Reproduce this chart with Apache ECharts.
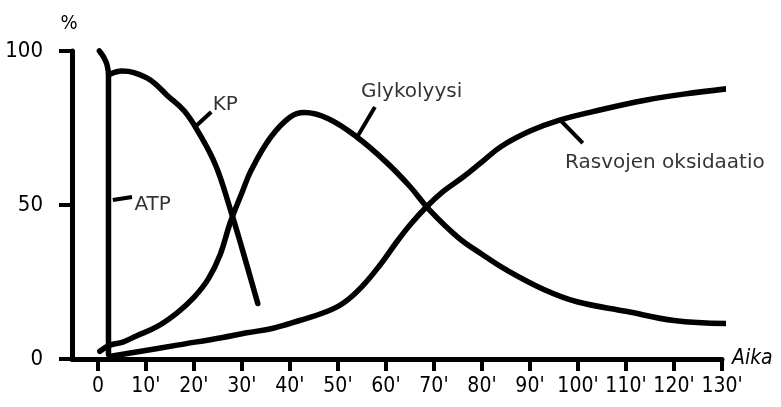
<!DOCTYPE html>
<html>
<head>
<meta charset="utf-8">
<script src="https://cdn.jsdelivr.net/npm/echarts@6/dist/echarts.min.js"></script>
<style>
html,body{margin:0;padding:0;background:#fff;}
#c{width:781px;height:407px;}
</style>
</head>
<body>
<div id="c"></div>
<script>
// Tick values
const xTicks = [0,10,20,30,40,50,60,70,80,90,100,110,120,130];
const yTicks = [0,50,100];

// Series data [minutes, %]
const atp = [[0.3,100],[1.2,98],[1.9,95.5],[2.2,92],[2.2,1.5]];
const kp = [[2.6,92.5],[5,93.5],[7.5,93],[11,90.5],[14.5,85.5],[18,80.5],[21,73.5],[24.5,63],[27.5,49],[30,36],[33.3,18]];
const glyk = [[0.4,2.5],[2.5,4.5],[5.2,5.5],[8,7.5],[12.3,10.5],[16.5,15],[20,20],[23,26],[25.5,34],[27.5,44],[30,54],[32,61.5],[36,72],[40,78.5],[43,80],[48,78],[54,72],[60,64],[65,56],[69,48.5],[75,39.5],[80,34],[85,29],[93,22.5],[100,18.5],[110,15.5],[120,12.5],[131,11.5]];
const rasva = [[3,1],[9,2.5],[16.5,4.5],[26,7],[31,8.5],[36.5,10],[42,12.5],[47,15],[51,18],[55,23.5],[59,31],[62,37.5],[65,43.5],[68.5,49.5],[72,54.5],[76,59],[80,64],[84,69],[90,74],[96,77.5],[105,81],[114,84],[122,86],[132.5,88]];

// Curve annotations: label, connector start, connector end, text anchor
const annNames = ['KP','ATP','Glykolyysi','Rasvojen oksidaatio'];
const annFrom = [[20.2,75.3],[3.1,51.6],[54,72.1],[96.3,77.6]];
const annTo = [[23.6,80.2],[7.1,52.6],[57.7,81.8],[101,70.1]];
const annText = [[23.9,82.5],[7.6,50],[54.8,86.8],[97.3,63.6]];

const tickFont = '"Liberation Sans Narrow","DejaVu Sans Condensed","Liberation Sans",sans-serif';
const labelFont = '"DejaVu Sans","Liberation Sans",sans-serif';

function curve(name, data) {
  return {
    name: name, type: 'line', data: data, smooth: 0.4, symbol: 'none', clip: false,
    lineStyle: {color: '#000', width: 5.5, cap: 'round', join: 'round'}, z: 3
  };
}

const series = [
  curve('ATP', atp),
  curve('KP', kp),
  curve('Glykolyysi', glyk),
  curve('Rasvojen oksidaatio', rasva)
];
annNames.forEach(function(n, i) {
  series.push({
    type: 'line', data: [annFrom[i], annTo[i]], symbol: 'none', clip: false, silent: true,
    lineStyle: {color: '#000', width: 4}, z: 3
  });
  series.push({
    type: 'scatter', data: [annText[i]], symbolSize: 0, clip: false, silent: true,
    label: {show: true, position: 'inside', formatter: n, align: 'left', verticalAlign: 'middle',
      color: '#000', textBorderWidth: 0, fontFamily: labelFont, fontSize: 20}
  });
});

const chart = echarts.init(document.getElementById('c'), null, {renderer: 'canvas'});
chart.setOption({
  animation: false,
  backgroundColor: '#fff',
  grid: {left: 72, right: 59, top: 51, bottom: 48, containLabel: false},
  xAxis: {
    type: 'value', min: -5.4, max: 130,
    name: 'Aika', nameLocation: 'end', nameGap: 10,
    nameTextStyle: {fontFamily: tickFont, fontSize: 21, fontStyle: 'italic', color: '#000', verticalAlign: 'middle', padding: [0,0,6,0]},
    axisLine: {show: true, lineStyle: {color: '#000', width: 5}},
    axisTick: {show: true, customValues: xTicks, length: 12, lineStyle: {color: '#000', width: 4}},
    axisLabel: {customValues: xTicks, margin: 17, color: '#000', fontFamily: tickFont, fontSize: 21,
      formatter: function(v){ return v === 0 ? '0' : v + "'"; }},
    splitLine: {show: false}
  },
  yAxis: {
    type: 'value', min: 0, max: 100,
    name: '%', nameLocation: 'end', nameGap: 17,
    nameTextStyle: {fontFamily: tickFont, fontSize: 20, color: '#000', align: 'center', padding: [0,6,0,0]},
    axisLine: {show: true, onZero: false, lineStyle: {color: '#000', width: 5}},
    axisTick: {show: true, customValues: yTicks, length: 13, lineStyle: {color: '#000', width: 4}},
    axisLabel: {customValues: yTicks, margin: 29, color: '#000', fontFamily: tickFont, fontSize: 22},
    splitLine: {show: false}
  },
  series: series
});
</script>
</body>
</html>
